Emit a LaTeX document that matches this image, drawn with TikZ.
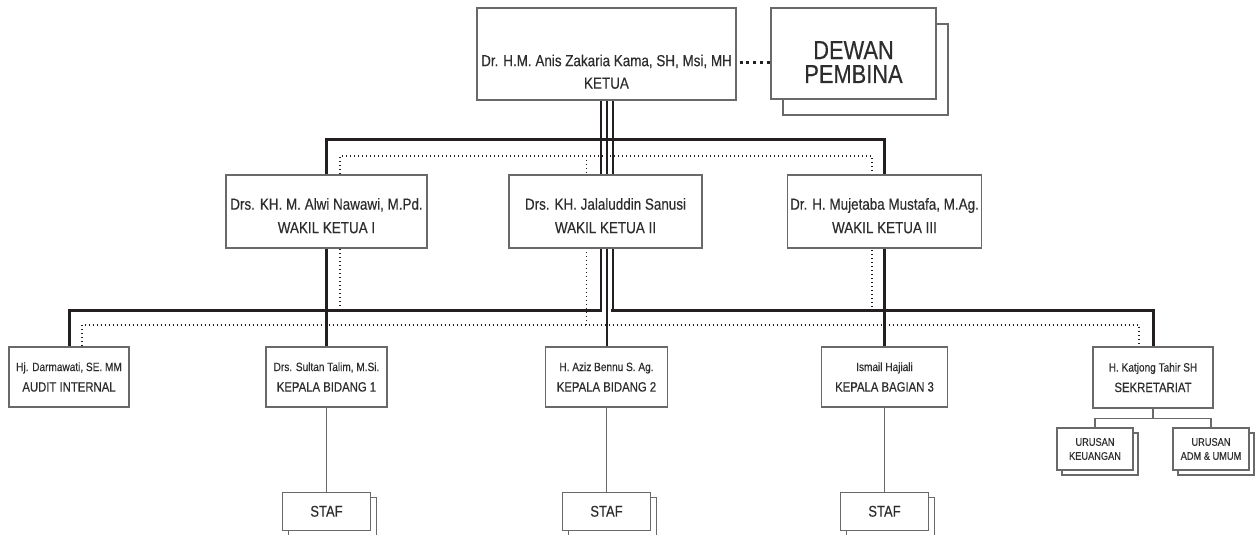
\documentclass[tikz,border=0pt]{standalone}
\usepackage{fontspec}
\setmainfont{Liberation Sans}[FakeStretch=0.84, FakeBold=0.35]
\usepackage{tikz}
\usetikzlibrary{positioning, calc, backgrounds, shadows}
\definecolor{linedark}{RGB}{35,31,32}
\definecolor{boxgray}{RGB}{105,105,105}
\definecolor{textgray}{RGB}{45,45,45}
\newcommand{\toppad}[1]{\rule{0pt}{#1}}
\newcommand{\nm}{\fontsize{12}{20.5}\selectfont}
\tikzset{
  box/.style={rectangle, draw=boxgray, line width=1.3pt, fill=white,
    align=center, inner sep=0pt, text=textgray},
  headbox/.style={box, minimum width=259pt, minimum height=92pt,
    font=\fontsize{16}{22.5}\selectfont},
  pembinabox/.style={box, minimum width=165pt, minimum height=91pt,
    font=\fontsize{26}{24}\selectfont,
    copy shadow={shadow xshift=12pt, shadow yshift=-16pt}},
  wakilbox/.style={box, minimum height=73pt, font=\fontsize{16}{23.5}\selectfont},
  unitbox/.style={box, minimum height=60pt, font=\fontsize{13.5}{20.5}\selectfont},
  stafbox/.style={box, minimum width=88pt, minimum height=38pt,
    font=\fontsize{15.5}{18}\selectfont,
    copy shadow={shadow xshift=6pt, shadow yshift=-5pt}},
  urusanbox/.style={box, minimum width=76pt, minimum height=42pt,
    font=\fontsize{11}{14}\selectfont,
    copy shadow={shadow xshift=5pt, shadow yshift=-5pt}},
  busline/.style={draw=linedark, line width=3pt, line cap=rect},
  tripleline/.style={draw=linedark, line width=2pt, line cap=rect},
  dotline/.style={draw=linedark, line width=1.3pt, dash pattern=on 1.3pt off 2.7pt},
  thinline/.style={draw=boxgray, line width=1.3pt},
  pembinadots/.style={draw=linedark, line width=3pt, dash pattern=on 3pt off 3.8pt},
}

\begin{document}
\begin{tikzpicture}[x=1pt, y=-1pt]
  \useasboundingbox (0,0) rectangle (1259,535);

  % Pimpinan
  \node[headbox] (ketua) at (606.5,54)
    {\toppad{47pt}Dr. H.M. Anis Zakaria Kama, SH, Msi, MH\\KETUA};
  \node[pembinabox] (pembina) at (853.5,53.5) {\toppad{35pt}DEWAN\\PEMBINA};

  % Wakil ketua
  \node[wakilbox, minimum width=201pt] (wakil1) at (326.5,211.5)
    {\toppad{20pt}Drs. KH. M. Alwi Nawawi, M.Pd.\\WAKIL KETUA I};
  \node[wakilbox, minimum width=193pt] (wakil2) at (605.5,211.5)
    {\toppad{20pt}Drs. KH. Jalaluddin Sanusi\\WAKIL KETUA II};
  \node[wakilbox, minimum width=194pt] (wakil3) at (884.5,211.5)
    {\toppad{20pt}Dr. H. Mujetaba Mustafa, M.Ag.\\WAKIL KETUA III};

  % Unit
  \node[unitbox, minimum width=120pt] (audit) at (69,377)
    {{\nm Hj. Darmawati, SE. MM}\\AUDIT INTERNAL};
  \node[unitbox, minimum width=121pt] (kabid1) at (326.5,377)
    {{\nm Drs. Sultan Talim, M.Si.}\\KEPALA BIDANG 1};
  \node[unitbox, minimum width=122pt] (kabid2) at (606.5,377)
    {{\nm H. Aziz Bennu S. Ag.}\\KEPALA BIDANG 2};
  \node[unitbox, minimum width=126pt] (kabag3) at (884.5,377)
    {{\nm Ismail Hajiali}\\KEPALA BAGIAN 3};
  \node[unitbox, minimum width=120pt, minimum height=61pt] (sekre) at (1153,377.5)
    {{\nm H. Katjong Tahir SH}\\SEKRETARIAT};

  % Staf dan urusan
  \node[stafbox, below=84pt of kabid1] (staf1) {STAF};
  \node[stafbox, below=84pt of kabid2] (staf2) {STAF};
  \node[stafbox, below=84pt of kabag3] (staf3) {STAF};
  \node[urusanbox] (urkeu) at (1095,449) {URUSAN\\KEUANGAN};
  \node[urusanbox] (uradm) at (1211,449) {URUSAN\\ADM \& UMUM};

  \begin{scope}[on background layer]
    \coordinate (busA) at (0,139);
    \coordinate (busB) at (0,310);
    \coordinate (dotA) at (0,156);
    \coordinate (dotB) at (0,325);

    % Garis komando
    \draw[tripleline] ([xshift=-6pt]ketua.south) -- ([xshift=-6pt]ketua.south |- busB);
    \draw[tripleline] (ketua.south) -- (kabid2.north);
    \draw[tripleline] ([xshift=6pt]ketua.south) -- ([xshift=6pt]ketua.south |- busB);
    \draw[busline] (wakil1.north) |- (wakil3.north |- busA) -- (wakil3.north);
    \draw[busline] (audit.north) |- ([xshift=-6pt]ketua.south |- busB);
    \draw[busline] (sekre.north) |- ([xshift=6pt]ketua.south |- busB);
    \draw[busline] (wakil1.south) -- (kabid1.north);
    \draw[busline] (wakil3.south) -- (kabag3.north);

    % Garis koordinasi
    \draw[dotline] ([xshift=13.5pt]wakil1.north |- busB) -- ([xshift=13.5pt]wakil1.north |- dotA)
      -- ([xshift=-12.5pt]wakil3.north |- dotA) -- ([xshift=-12.5pt]wakil3.north |- busB);
    \draw[dotline] ([xshift=-20pt]ketua.south |- dotA) -- ([xshift=-20pt]ketua.south |- dotB);
    \draw[dotline] ([xshift=13pt]audit.north) |- ([xshift=-14pt]sekre.north |- dotB)
      -- ([xshift=-14pt]sekre.north);
    \draw[pembinadots] ([xshift=3pt, yshift=-9pt]ketua.east) -- ([yshift=-9pt]ketua.east -| pembina.west);

    % Ke staf
    \draw[thinline] (kabid1.south) -- (staf1.north);
    \draw[thinline] (kabid2.south) -- (staf2.north);
    \draw[thinline] (kabag3.south) -- (staf3.north);
    \draw[thinline] (sekre.south) -- ++(0,10) -| (urkeu.north);
    \draw[thinline] (sekre.south) -- ++(0,10) -| (uradm.north);
  \end{scope}
\end{tikzpicture}
\end{document}
